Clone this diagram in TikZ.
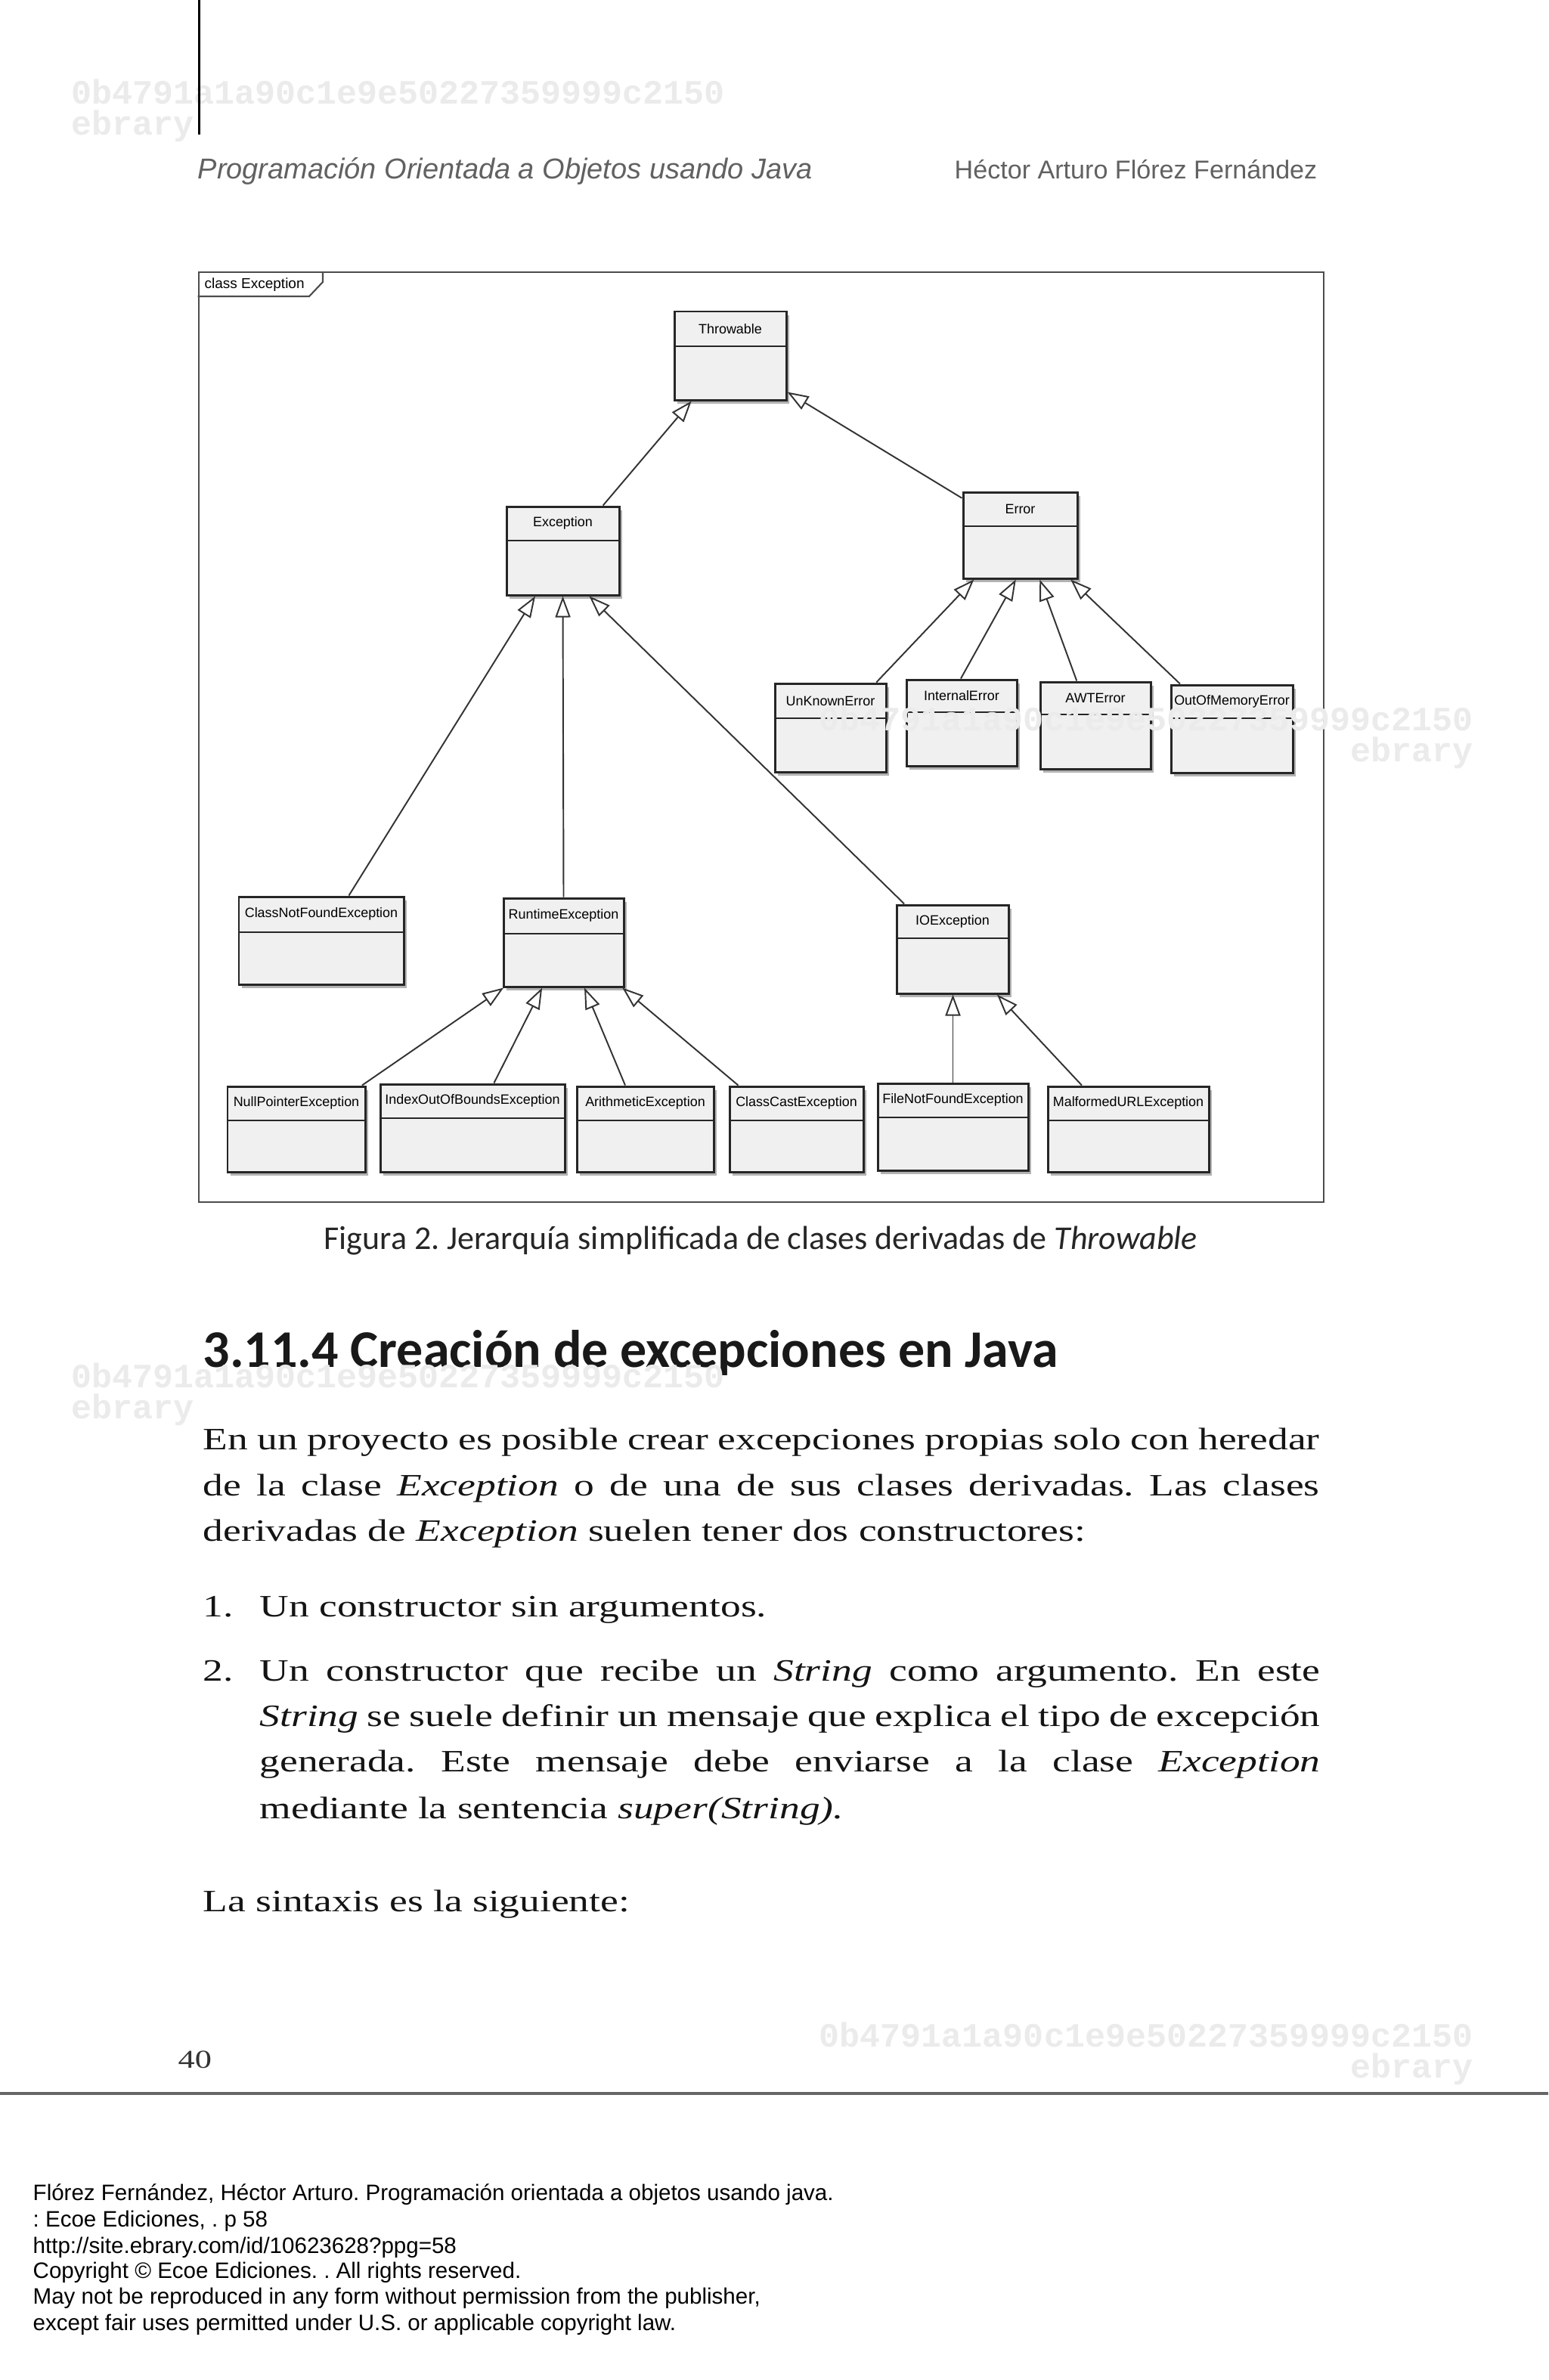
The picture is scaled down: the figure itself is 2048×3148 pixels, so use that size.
\documentclass[tikz,border=0pt]{standalone}
\usepackage{fontspec}
\setmainfont{Liberation Serif}
\newfontfamily\bodyfont{Liberation Serif}[FakeStretch=1.3]
\newfontfamily\arialfont{Liberation Sans}
\newfontfamily\carlitofont{Carlito}
\newfontfamily\markfont{Liberation Mono}
\usetikzlibrary{arrows.meta,calc,fit,shadows}
\definecolor{markGray}{HTML}{EBEBEB}
\definecolor{boxFill}{HTML}{F0F0F0}
\frenchspacing

\begin{document}
\begin{tikzpicture}[x=0.01cm, y=-0.01cm,
    classbox/.style={draw=black!85, line width=0.85pt, fill=boxFill, inner sep=0pt,
      drop shadow={shadow xshift=0.04cm, shadow yshift=-0.045cm, fill=black, opacity=0.3}},
    classname/.style={font=\arialfont\fontsize{5.1}{6}\selectfont, inner sep=0pt},
    divline/.style={draw=black!85, line width=0.6pt},
    inherits/.style={draw=black!80, line width=0.55pt, -{Triangle[open, length=0.28cm, width=0.2cm]}},
    watermark/.style={font=\markfont\bfseries\fontsize{12.8}{14}\selectfont, text=markGray, inner sep=0pt},
    bodytext/.style={font=\bodyfont\fontsize{11.7}{17.4}\selectfont, text=black!92, inner sep=0pt, anchor=base west},
    footline/.style={font=\arialfont\fontsize{8.4}{10}\selectfont, inner sep=0pt, anchor=base west}]
  \useasboundingbox (0,0) rectangle (2048,3148);
  \fill[white] (0,0) rectangle (2048,3148);

  % running head
  \node[anchor=base west, font=\arialfont\itshape\fontsize{10.8}{13}\selectfont, text=black!62, inner sep=0pt] (booktitle) at (261,236) {Programación Orientada a Objetos usando Java};
  \node[anchor=base east, font=\arialfont\fontsize{9.7}{12}\selectfont, text=black!62, inner sep=0pt] (author) at (1743,236) {Héctor Arturo Flórez Fernández};

  % diagram frame
  \node[draw=black!70, line width=0.8pt, inner sep=0pt, fit={(263,360) (1751,1590)}] (frame) {};
  \draw[black!70, line width=0.6pt] (frame.west |- 0,392) -- (409,392) -- (427,373) -- (427,360);
  \node[anchor=base west, font=\arialfont\fontsize{5.4}{6}\selectfont, inner sep=0pt] (frametitle) at (270,381) {class Exception};

  % classes
  \node[classbox, fit={(892,412) (1040,529)}] (throwable) {};
  \draw[divline] (throwable.west |- 0,458) -- (throwable.east |- 0,458);
  \node[classname] (throwable-t) at (throwable.north |- 0,435) {Throwable};

  \node[classbox, fit={(670,670) (819,787)}] (exception) {};
  \draw[divline] (exception.west |- 0,715) -- (exception.east |- 0,715);
  \node[classname] (exception-t) at (exception.north |- 0,692) {Exception};

  \node[classbox, fit={(1274,651) (1425,765)}] (error) {};
  \draw[divline] (error.west |- 0,696) -- (error.east |- 0,696);
  \node[classname] (error-t) at (error.north |- 0,673) {Error};

  \node[classbox, fit={(1025,904) (1172,1021)}] (unknown) {};
  \draw[divline] (unknown.west |- 0,950) -- (unknown.east |- 0,950);
  \node[classname] (unknown-t) at (unknown.north |- 0,927) {UnKnownError};

  \node[classbox, fit={(1199,899) (1345,1013)}] (internal) {};
  \draw[divline] (internal.west |- 0,942) -- (internal.east |- 0,942);
  \node[classname] (internal-t) at (internal.north |- 0,920) {InternalError};

  \node[classbox, fit={(1376,902) (1522,1017)}] (awt) {};
  \draw[divline] (awt.west |- 0,945) -- (awt.east |- 0,945);
  \node[classname] (awt-t) at (awt.north |- 0,923) {AWTError};

  \node[classbox, fit={(1549,906) (1710,1022)}] (outofmemory) {};
  \draw[divline] (outofmemory.west |- 0,950) -- (outofmemory.east |- 0,950);
  \node[classname] (outofmemory-t) at (outofmemory.north |- 0,928) {OutOfMemoryError};

  \node[classbox, fit={(316,1186) (534,1302)}] (classnotfound) {};
  \draw[divline] (classnotfound.west |- 0,1233) -- (classnotfound.east |- 0,1233);
  \node[classname] (classnotfound-t) at (classnotfound.north |- 0,1209) {ClassNotFoundException};

  \node[classbox, fit={(666,1188) (825,1305)}] (runtime) {};
  \draw[divline] (runtime.west |- 0,1235) -- (runtime.east |- 0,1235);
  \node[classname] (runtime-t) at (runtime.north |- 0,1211) {RuntimeException};

  \node[classbox, fit={(1186,1197) (1334,1314)}] (ioexc) {};
  \draw[divline] (ioexc.west |- 0,1241) -- (ioexc.east |- 0,1241);
  \node[classname] (ioexc-t) at (ioexc.north |- 0,1219) {IOException};

  \node[classbox, fit={(301,1437) (483,1550)}] (nullpointer) {};
  \draw[divline] (nullpointer.west |- 0,1482) -- (nullpointer.east |- 0,1482);
  \node[classname] (nullpointer-t) at (nullpointer.north |- 0,1459) {NullPointerException};

  \node[classbox, fit={(503,1434) (747,1550)}] (indexout) {};
  \draw[divline] (indexout.west |- 0,1479) -- (indexout.east |- 0,1479);
  \node[classname] (indexout-t) at (indexout.north |- 0,1456) {IndexOutOfBoundsException};

  \node[classbox, fit={(763,1437) (944,1550)}] (arithmetic) {};
  \draw[divline] (arithmetic.west |- 0,1482) -- (arithmetic.east |- 0,1482);
  \node[classname] (arithmetic-t) at (arithmetic.north |- 0,1459) {ArithmeticException};

  \node[classbox, fit={(965,1437) (1142,1550)}] (classcast) {};
  \draw[divline] (classcast.west |- 0,1482) -- (classcast.east |- 0,1482);
  \node[classname] (classcast-t) at (classcast.north |- 0,1459) {ClassCastException};

  \node[classbox, fit={(1161,1433) (1360,1548)}] (filenotfound) {};
  \draw[divline] (filenotfound.west |- 0,1478) -- (filenotfound.east |- 0,1478);
  \node[classname] (filenotfound-t) at (filenotfound.north |- 0,1455) {FileNotFoundException};

  \node[classbox, fit={(1386,1437) (1599,1550)}] (malformed) {};
  \draw[divline] (malformed.west |- 0,1482) -- (malformed.east |- 0,1482);
  \node[classname] (malformed-t) at (malformed.north |- 0,1459) {MalformedURLException};

  % generalizations
  \draw[inherits] ($(exception.north west)!0.85!(exception.north east)$) -- ($(throwable.south west)!0.16!(throwable.south east)$);
  \draw[inherits] ($(error.north west)!0.08!(error.south west)$) -- ($(throwable.north east)!0.9!(throwable.south east)$);
  \draw[inherits] ($(unknown.north west)!0.905!(unknown.north east)$) -- ($(error.south west)!0.103!(error.south east)$);
  \draw[inherits] ($(internal.north west)!0.493!(internal.north east)$) -- ($(error.south west)!0.463!(error.south east)$);
  \draw[inherits] ($(awt.north west)!0.334!(awt.north east)$) -- ($(error.south west)!0.667!(error.south east)$);
  \draw[inherits] ($(outofmemory.north west)!0.082!(outofmemory.north east)$) -- ($(error.south west)!0.933!(error.south east)$);
  \draw[inherits] ($(classnotfound.north west)!0.665!(classnotfound.north east)$) -- ($(exception.south west)!0.26!(exception.south east)$);
  \draw[inherits] (runtime.north) -- (exception.south);
  \draw[inherits] ($(ioexc.north west)!0.077!(ioexc.north east)$) -- ($(exception.south west)!0.73!(exception.south east)$);
  \draw[inherits] ($(nullpointer.north west)!0.97!(nullpointer.north east)$) -- ($(runtime.south west)!0.01!(runtime.south east)$);
  \draw[inherits] ($(indexout.north west)!0.615!(indexout.north east)$) -- ($(runtime.south west)!0.325!(runtime.south east)$);
  \draw[inherits] ($(arithmetic.north west)!0.356!(arithmetic.north east)$) -- ($(runtime.south west)!0.67!(runtime.south east)$);
  \draw[inherits] ($(classcast.north west)!0.072!(classcast.north east)$) -- ($(runtime.south west)!0.98!(runtime.south east)$);
  \draw[inherits] (filenotfound.north) -- (filenotfound.north |- ioexc.south);
  \draw[inherits] ($(malformed.north west)!0.215!(malformed.north east)$) -- ($(ioexc.south west)!0.89!(ioexc.south east)$);

  % caption and text
  \node[anchor=base west, font=\carlitofont\fontsize{12.5}{15}\selectfont, text=black!85, inner sep=0pt] (caption) at (428,1652) {Figura 2. Jerarquía simplificada de clases derivadas de \textit{Throwable}};
  \node[anchor=base west, font=\carlitofont\bfseries\fontsize{19.9}{23}\selectfont, text=black!90, inner sep=0pt] (heading) at (268,1808) {3.11.4 Creación de excepciones en Java};

  \node[bodytext] (par1a) at (268,1917) {\makebox[14.76cm][s]{En un proyecto es posible crear excepciones propias solo con heredar}};
  \node[bodytext] (par1b) at (268,1978) {\makebox[14.76cm][s]{de la clase \textit{Exception} o de una de sus clases derivadas. Las clases}};
  \node[bodytext] (par1c) at (268,2038) {derivadas de \textit{Exception} suelen tener dos constructores:};
  \node[bodytext] (num1) at (268,2138) {1.};
  \node[bodytext] (item1) at (343,2138) {Un constructor sin argumentos.};
  \node[bodytext] (num2) at (268,2223) {2.};
  \node[bodytext] (item2a) at (343,2223) {\makebox[14.02cm][s]{Un constructor que recibe un \textit{String} como argumento. En este}};
  \node[bodytext] (item2b) at (343,2283) {\makebox[14.02cm][s]{\textit{String} se suele definir un mensaje que explica el tipo de excepción}};
  \node[bodytext] (item2c) at (343,2343) {\makebox[14.02cm][s]{generada. Este mensaje debe enviarse a la clase \textit{Exception}}};
  \node[bodytext] (item2d) at (343,2405) {mediante la sentencia \textit{super(String).}};
  \node[bodytext] (syntax) at (268,2528) {La sintaxis es la siguiente:};

  \node[bodytext, text=black!80, font=\bodyfont\fontsize{9.7}{12}\selectfont] (pagenum) at (235,2735) {40};
  \draw[black!60, line width=1.1pt] (0,2769) -- (2048,2769);

  % footer
  \node[footline] (foot1) at (43,2910) {Flórez Fernández, Héctor Arturo. Programación orientada a objetos usando java.};
  \node[footline] (foot2) at (43,2945) {: Ecoe Ediciones, . p 58};
  \node[footline] (foot3) at (43,2980) {http://site.ebrary.com/id/10623628?ppg=58};
  \node[footline] (foot4) at (43,3013) {Copyright © Ecoe Ediciones. . All rights reserved.};
  \node[footline] (foot5) at (43,3047) {May not be reproduced in any form without permission from the publisher,};
  \node[footline] (foot6) at (43,3082) {except fair uses permitted under U.S. or applicable copyright law.};

  % watermarks
  \node[watermark, anchor=base west] (mark1) at (94,137) {0b4791a1a90c1e9e50227359999c2150};
  \node[watermark, anchor=base west] (mark1e) at (94,178) {ebrary};
  \node[watermark, anchor=base east] (mark2) at (1949,966) {0b4791a1a90c1e9e50227359999c2150};
  \node[watermark, anchor=base east] (mark2e) at (1949,1007) {ebrary};
  \node[watermark, anchor=base west] (mark3) at (94,1835) {0b4791a1a90c1e9e50227359999c2150};
  \node[watermark, anchor=base west] (mark3e) at (94,1876) {ebrary};
  \node[watermark, anchor=base east] (mark4) at (1949,2707) {0b4791a1a90c1e9e50227359999c2150};
  \node[watermark, anchor=base east] (mark4e) at (1949,2748) {ebrary};

  \draw[line width=0.6pt] (263.5,0) -- (263.5,178);
\end{tikzpicture}
\end{document}
